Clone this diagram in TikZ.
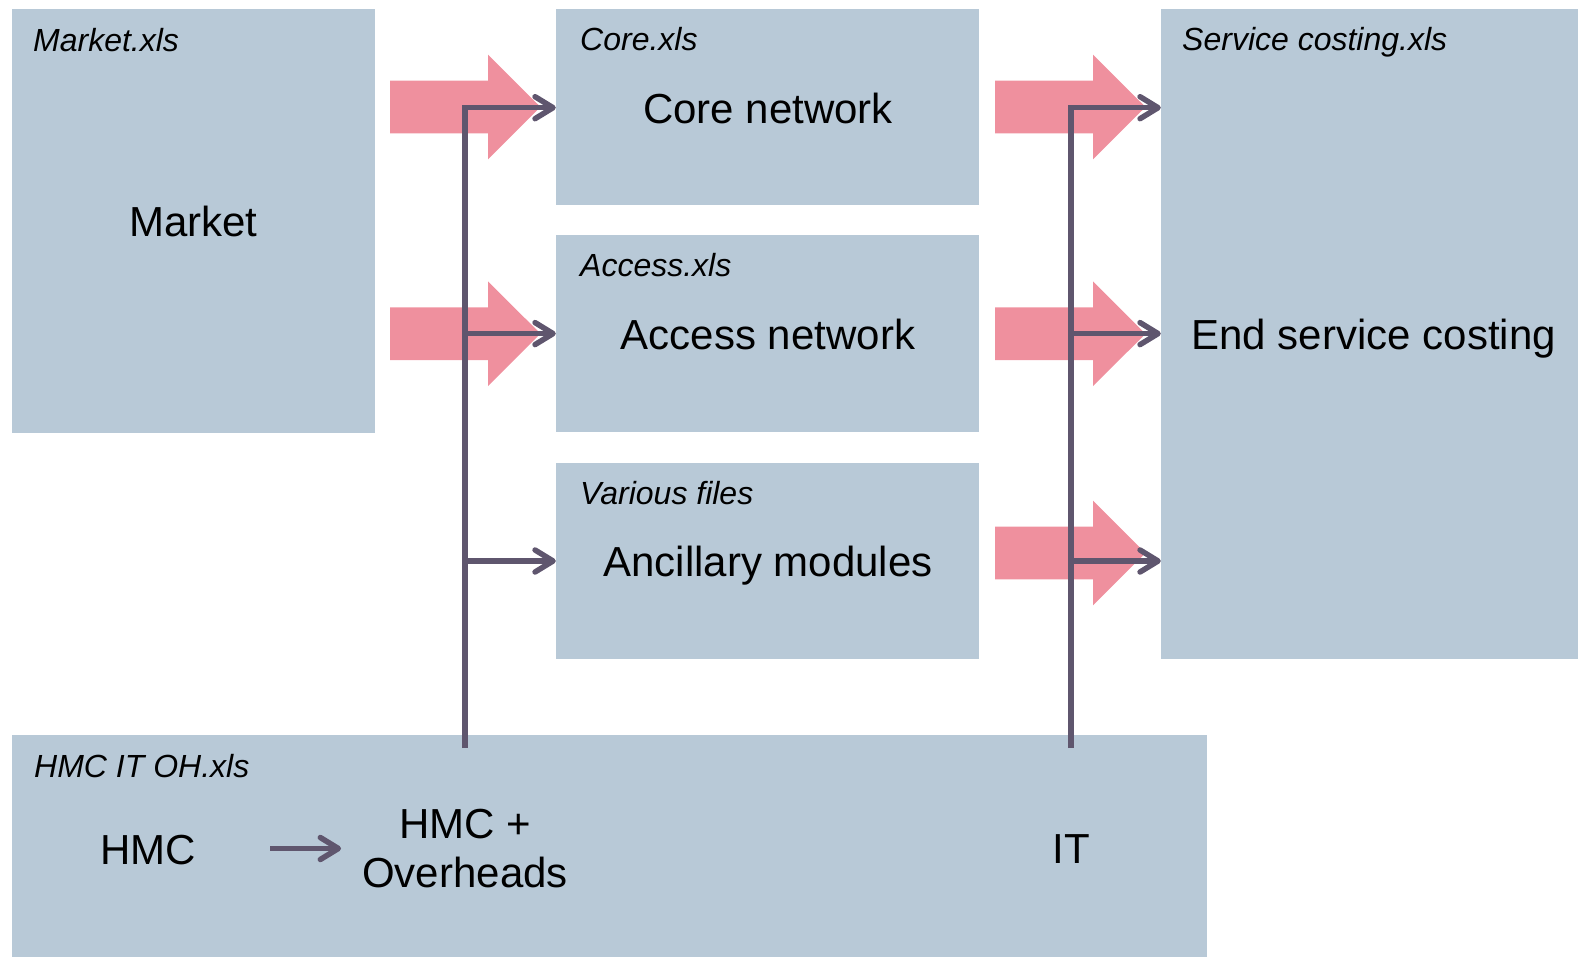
\documentclass[tikz,border=0pt]{standalone}
\usepackage{fontspec}
\setmainfont{Liberation Sans}
\usetikzlibrary{arrows.meta,fit}
\definecolor{boxblue}{HTML}{B8C9D7}
\definecolor{flowpink}{HTML}{EF909E}
\definecolor{linkgrey}{HTML}{5F566E}
\tikzset{
  box/.style={rectangle, fill=boxblue, draw=none, inner sep=0pt},
  filetag/.style={font=\fontsize{32}{36}\selectfont\itshape, anchor=base west, inner sep=0pt},
  title/.style={font=\fontsize{42}{49.3}\selectfont, inner sep=0pt, align=center},
  link/.style={draw=linkgrey, line width=5.5pt, line join=miter,
    -{Straight Barb[length=18pt,width=22pt,round]}},
  fatarrow/.pic={
    \fill[flowpink] (0,-26.3) -- (98,-26.3) -- (98,-52.3) -- (150.5,0)
      -- (98,52.3) -- (98,26.3) -- (0,26.3) -- cycle;
  },
}
\begin{document}
\begin{tikzpicture}[x=1pt, y=-1pt]
  \useasboundingbox (0,0) rectangle (1578,957);

  % spreadsheet blocks
  \node[box, fit={(12,9) (374.7,433)}] (market) {};
  \node[box, fit={(556,9) (979,205)}] (core) {};
  \node[box, fit={(556,235.5) (979,431.7)}] (access) {};
  \node[box, fit={(556,463) (979,659)}] (various) {};
  \node[box, fit={(1161,9) (1578,659)}] (service) {};
  \node[box, fit={(12,735) (1206.7,957)}] (hmcbox) {};

  % file names
  \node[filetag] (marketxls) at (33,51.5) {Market.xls};
  \node[filetag] (corexls) at (580,50.5) {Core.xls};
  \node[filetag] (accessxls) at (580,277) {Access.xls};
  \node[filetag] (variousxls) at (580,504.5) {Various files};
  \node[filetag] (servicexls) at (1182,50.5) {Service costing.xls};
  \node[filetag] (hmcxls) at (34,777) {HMC IT OH.xls};

  % block titles
  \node[title, anchor=base] (markett) at (193.3,236.7) {Market};
  \node[title, anchor=base] (coret) at (768,123.3) {Core network};
  \node[title, anchor=base] (accesst) at (768,349.8) {Access network};
  \node[title, anchor=base] (anct) at (768,576.7) {Ancillary modules};
  \node[title, anchor=base] (servicet) at (1373.7,349.5) {End service costing};
  \node[title, anchor=base] (hmc) at (148.3,864) {HMC};
  \node[title] (ovh) at (465,848.8) {HMC +\\Overheads};
  \node[title, anchor=base] (it) at (1071.3,863.5) {IT};

  % main data flows
  \pic at (390,107) {fatarrow};
  \pic at (390,333.7) {fatarrow};
  \pic at (995,107) {fatarrow};
  \pic at (995,333.8) {fatarrow};
  \pic at (995,553) {fatarrow};

  % overhead feeds
  \coordinate (lfoot) at (465,748);
  \coordinate (rfoot) at (1071,748);
  \coordinate (coreline) at ([yshift=-0.7pt]core.west);
  \draw[link] (lfoot) |- (coreline);
  \draw[link] (lfoot |- access.west) -- (access.west);
  \draw[link] (lfoot |- various.west) -- (various.west);
  \draw[link] (rfoot) |- (service.west |- coreline);
  \draw[link] (rfoot |- access.west) -- (service.west |- access.west);
  \draw[link] (rfoot |- various.west) -- (service.west |- various.west);
  \coordinate (hmcout) at ([xshift=74pt,yshift=15.5pt]hmc.base east);
  \coordinate (ovhin) at ([xshift=-21pt]ovh.west);
  \draw[link] (hmcout) -- (ovhin |- hmcout);
\end{tikzpicture}
\end{document}
